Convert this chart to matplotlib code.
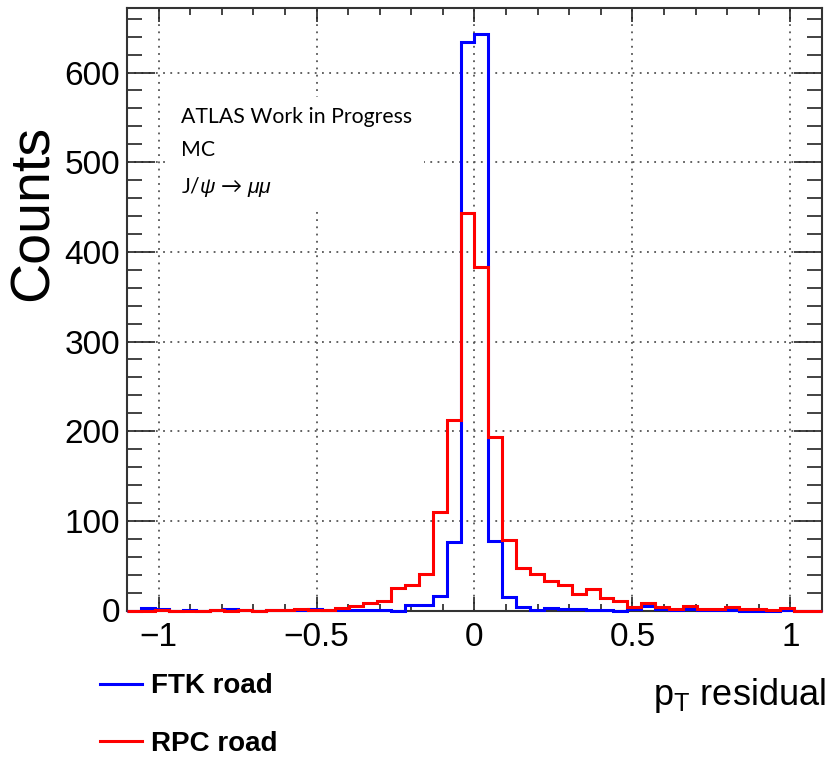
import numpy as np
import matplotlib.pyplot as plt
from matplotlib.ticker import MultipleLocator

# 50 bins from -1.1 to 1.1
edges = np.linspace(-1.1, 1.1, 51)

ftk = [0, 3, 2, 0, 1, 0, 1, 2, 1, 0,
       1, 1, 1, 2, 1, 1, 1, 1, 1, 0,
       6, 6, 16, 76, 634, 643, 78, 15, 4, 1,
       3, 2, 2, 1, 1, 0, 2, 5, 2, 1,
       2, 1, 1, 1, 0, 0, 0, 1, 0, 0]

rpc = [0, 0, 1, 0, 0, 0, 1, 0, 1, 0,
       1, 1, 2, 1, 1, 3, 5, 8, 11, 25,
       28, 41, 110, 212, 443, 383, 194, 79, 47, 41,
       33, 28, 18, 24, 14, 11, 4, 8, 4, 2,
       5, 2, 2, 4, 2, 2, 1, 3, 0, 0]

labels = ["FTK road", "RPC road"]
colors = ["#0000ff", "#ff0000"]

plt.rcParams['font.family'] = 'Liberation Sans'
plt.rcParams['mathtext.fontset'] = 'custom'
plt.rcParams['mathtext.rm'] = 'Liberation Sans'
plt.rcParams['mathtext.it'] = 'Liberation Sans:italic'

fig = plt.figure(figsize=(8.28, 7.6), dpi=100)
ax = fig.add_axes([127/828, 1-610.5/760, 695/828, 602.5/760])

h1 = ax.stairs(ftk, edges, color=colors[0], linewidth=2.2, zorder=3, clip_on=False, label=labels[0])
h2 = ax.stairs(rpc, edges, color=colors[1], linewidth=2.2, zorder=3, clip_on=False, label=labels[1])

ax.set_xlim(-1.1, 1.1)
ax.set_ylim(0, 672)

ax.xaxis.set_major_locator(MultipleLocator(0.5))
ax.xaxis.set_minor_locator(MultipleLocator(0.1))
ax.yaxis.set_major_locator(MultipleLocator(100))
ax.yaxis.set_minor_locator(MultipleLocator(20))
ax.xaxis.set_major_formatter(lambda v, p: f"{v:g}".replace("-", "\u2212"))

ax.tick_params(which='both', direction='in', top=True, right=True, width=1.2, color='#222222')
ax.tick_params(axis='y', which='major', length=20, labelsize=24, pad=5)
ax.tick_params(axis='y', which='minor', length=10.5)
ax.tick_params(axis='x', which='major', length=10, labelsize=24, pad=8)
ax.tick_params(axis='x', which='minor', length=5)

for s in ax.spines.values():
    s.set_linewidth(1.5)
    s.set_color('#333333')

ax.set_axisbelow(True)
ax.grid(True, which='major', color='#555555', linestyle=(0, (1, 3)), linewidth=1.3)

ax.set_ylabel("Counts", fontsize=40, va='center')
ax.yaxis.set_label_coords(-0.134, 0.66)
ax.set_xlabel(r"p$_{\mathrm{T}}$ residual", fontsize=26, ha='right')
ax.xaxis.set_label_coords(1.005, -0.108)

fig.text(181/828, 1-107/760, "ATLAS Work in Progress\nMC\n" + r"J/$\psi$ → $\mu\mu$",
         family=['Lato', 'DejaVu Sans'], fontsize=15.3, va='top', ha='left', linespacing=1.83,
         bbox=dict(boxstyle='square,pad=0.55', facecolor='white', edgecolor='none'))

fig.legend([h1, h2], labels, loc='center left', bbox_to_anchor=(100/828, 1-715/760),
           frameon=False, prop={'weight': 'bold', 'size': 20}, handlelength=1.5,
           handletextpad=0.35, labelspacing=1.12, borderpad=0, borderaxespad=0)

fig.savefig("out.png", dpi=100)
